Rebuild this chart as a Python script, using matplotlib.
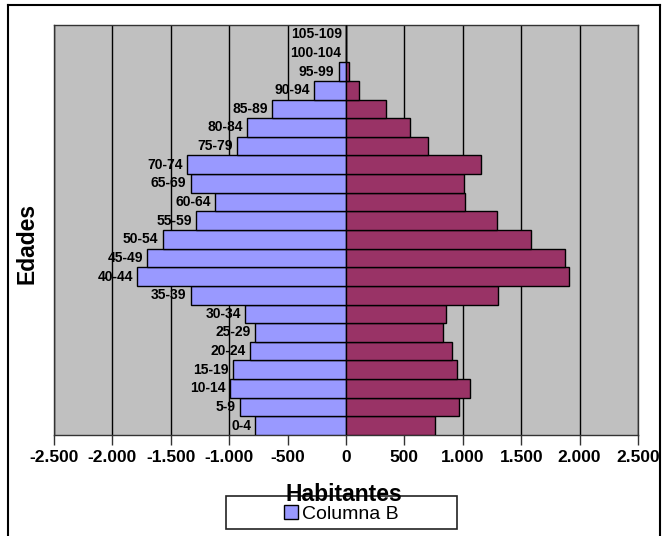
import numpy as np
import matplotlib
matplotlib.use('Agg')
import matplotlib.pyplot as plt
from matplotlib.patches import Rectangle, Patch
from matplotlib.lines import Line2D
from matplotlib.ticker import FuncFormatter, MultipleLocator

plt.rcParams['font.family'] = ['Liberation Sans', 'DejaVu Sans']

edades = ['0-4', '5-9', '10-14', '15-19', '20-24', '25-29', '30-34', '35-39',
          '40-44', '45-49', '50-54', '55-59', '60-64', '65-69', '70-74',
          '75-79', '80-84', '85-89', '90-94', '95-99', '100-104', '105-109']
columna_b = [-776, -910, -993, -965, -825, -776, -862, -1330, -1789, -1704,
             -1570, -1284, -1119, -1330, -1361, -930, -845, -634, -271, -63, -2, 0]
columna_c = [764, 970, 1059, 953, 905, 828, 853, 1304, 1912, 1878,
             1581, 1296, 1019, 1007, 1153, 705, 548, 340, 109, 23, 3, 0]

W, H = 662, 536
fig = plt.figure(figsize=(W / 100, H / 100), dpi=100)
ax = fig.add_axes([54 / W, 1 - 435 / H, (638 - 54) / W, (435 - 25) / H])
ax.set_facecolor('#C0C0C0')

y = np.arange(len(edades))
ax.barh(y, columna_b, height=1.0, color='#9999FF', edgecolor='black', linewidth=1, zorder=3)
ax.barh(y, columna_c, height=1.0, color='#993366', edgecolor='black', linewidth=1, zorder=3)

# etiquetas de edad al final de las barras de la izquierda
for yi, v, lab in zip(y, columna_b, edades):
    ax.annotate(lab, (v, yi), xytext=(-3, 0), textcoords='offset points',
                ha='right', va='center', fontsize=10, fontweight='bold', zorder=4)

ax.set_xlim(-2500, 2500)
ax.set_ylim(-0.5, len(edades) - 0.5)
ax.xaxis.set_major_locator(MultipleLocator(500))
ax.xaxis.set_major_formatter(FuncFormatter(lambda v, p: f'{int(v):,}'.replace(',', '.')))
ax.set_yticks([])
ax.grid(axis='x', color='black', linewidth=1, zorder=1)
ax.tick_params(axis='x', direction='out', length=7, width=1, color='#333333',
               labelsize=12.5, pad=4)
for lab in ax.get_xticklabels():
    lab.set_fontweight('bold')
for s in ax.spines.values():
    s.set_color('#333333')
    s.set_linewidth(1)

fig.text(27 / W, 1 - 243 / H, 'Edades', rotation=90, ha='center', va='center',
         fontsize=16.5, fontweight='bold')

# cuadro de la leyenda
fig.patches.append(Rectangle((226 / W, 1 - 529 / H), (457 - 226) / W, (529 - 496) / H,
                             transform=fig.transFigure, facecolor='white',
                             edgecolor='#222222', linewidth=1.2, zorder=1))
fig.legend(handles=[Patch(facecolor='#9999FF', edgecolor='black', label='Columna B')],
           loc='center', bbox_to_anchor=(341 / W, 1 - 514 / H), frameon=False,
           fontsize=14, handlelength=0.72, handleheight=0.72, handletextpad=0.2,
           borderpad=0)
fig.text(344 / W, 1 - 501 / H, 'Habitantes', ha='center', va='baseline',
         fontsize=16.5, fontweight='bold', zorder=5)

# marco exterior
for xs, ys in [((8, 8), (5, H + 5)), ((8, 660), (5, 5)), ((660, 660), (5, H + 5))]:
    fig.add_artist(Line2D([x / W for x in xs], [1 - v / H for v in ys],
                          transform=fig.transFigure, color='black', linewidth=1.5))

fig.savefig('out.png', dpi=100)
